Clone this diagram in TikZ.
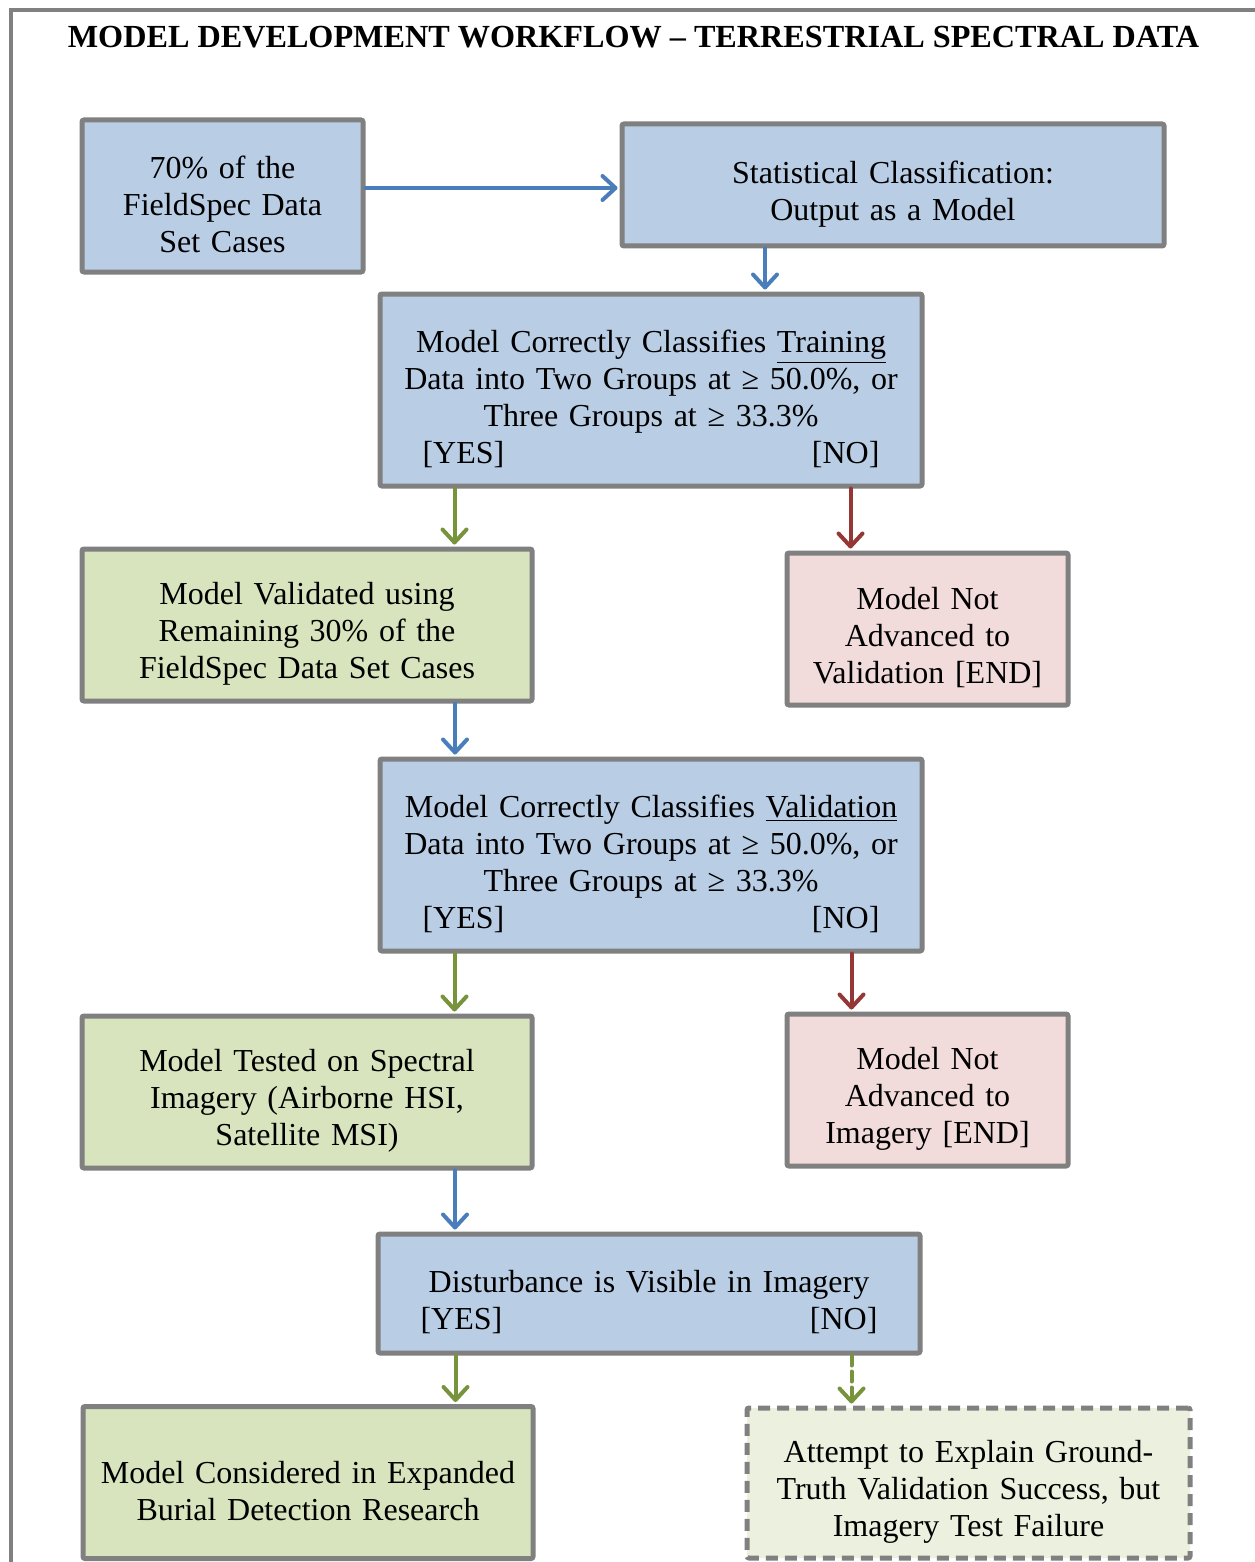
\documentclass[tikz,border=0pt]{standalone}
\usepackage{fontspec}
\setmainfont{Liberation Serif}
\usepackage{tikz}
\usetikzlibrary{arrows.meta, positioning}
\definecolor{edgegray}{RGB}{128,128,128}
\definecolor{bluefill}{RGB}{185,205,229}
\definecolor{greenfill}{RGB}{215,228,189}
\definecolor{pinkfill}{RGB}{242,220,219}
\definecolor{palefill}{RGB}{235,241,222}
\definecolor{bluearrow}{RGB}{74,126,187}
\definecolor{greenarrow}{RGB}{119,147,60}
\definecolor{redarrow}{RGB}{149,55,53}

\begin{document}
\begin{tikzpicture}[
    x=0.5pt, y=-0.5pt,
    box/.style={rectangle, draw=edgegray, line width=2.5pt, rounded corners=1pt, align=center, text width=215pt, inner sep=0pt, font=\fontsize{16}{18.5}\selectfont, execute at begin node={\rule{0pt}{20pt}}},
    bluebox/.style={box, fill=bluefill},
    greenbox/.style={box, fill=greenfill, minimum width=225pt, minimum height=76pt},
    stopbox/.style={box, fill=pinkfill, text width=135pt, minimum width=140.5pt, minimum height=76pt},
    checkbox/.style={bluebox, text width=250pt, minimum width=271pt, minimum height=96pt},
    arrow/.style={line width=2pt, line cap=round, shorten >=1pt, -{Straight Barb[length=6.5pt, width=12pt, round]}},
    bluearrowline/.style={arrow, draw=bluearrow},
    yesarrow/.style={arrow, draw=greenarrow},
    noarrow/.style={arrow, draw=redarrow}
]
\useasboundingbox (0,0) rectangle (1254,1562);

% outer frame and heading
\draw[edgegray, line width=2pt] (11,1600) -- (11,10) -- (1300,10);
\node[font=\bfseries\fontsize{16.1}{18}\selectfont] (title) at (633.5,37) {MODEL DEVELOPMENT WORKFLOW – TERRESTRIAL SPECTRAL DATA};

\node[bluebox, text width=135pt, minimum width=140.5pt, minimum height=76pt] (share) at (222.5,196) {70\% of the\\FieldSpec Data\\Set Cases};
\node[bluebox, minimum width=271pt, minimum height=61pt] (classify) at (893,185) {Statistical Classification:\\Output as a Model};

\node[checkbox] (train) at (651,390) {Model Correctly Classifies \underline{Training}\\Data into Two Groups at ≥ 50.0\%, or\\Three Groups at ≥ 33.3\%\\\makebox[228.5pt]{[YES]\hfill[NO]}};
\node[greenbox] (validate) at (307,625) {Model Validated using\\Remaining 30\% of the\\FieldSpec Data Set Cases};
\node[stopbox] (stoptrain) at (927.5,629) {Model Not\\Advanced to\\Validation [END]};

\node[checkbox] (valcheck) at (651,855) {Model Correctly Classifies \underline{Validation}\\Data into Two Groups at ≥ 50.0\%, or\\Three Groups at ≥ 33.3\%\\\makebox[228.5pt]{[YES]\hfill[NO]}};
\node[greenbox] (imagery) at (307,1092) {Model Tested on Spectral\\Imagery (Airborne HSI,\\Satellite MSI)};
\node[stopbox] (stopval) at (927.5,1090) {Model Not\\Advanced to\\Imagery [END]};

\node[bluebox, text width=250pt, minimum width=271pt, minimum height=59.5pt] (visible) at (649,1293.5) {Disturbance is Visible in Imagery\\\makebox[228.5pt]{[YES]\hfill[NO]}};
\node[greenbox] (research) at (308,1482.5) {Model Considered in Expanded\\Burial Detection Research};
\node[box, fill=palefill, dash pattern=on 6pt off 3.5pt, minimum width=221.5pt, minimum height=75pt] (explain) at (968.5,1483) {Attempt to Explain Ground-\\Truth Validation Success, but\\Imagery Test Failure};

\draw[bluearrowline] ([yshift=4pt]share.east) -- ([yshift=4pt]share.east -| classify.west);
\draw[bluearrowline] ([xshift=-64pt]classify.south) -- ([xshift=-64pt]classify.south |- train.north);
\draw[yesarrow] ([xshift=38.5pt]train.south west) -- ([xshift=38.5pt]train.south west |- validate.north);
\draw[noarrow] ([xshift=-37pt]train.south east) -- ([xshift=-37pt]train.south east |- stoptrain.north);
\draw[bluearrowline] ([xshift=74pt]validate.south) -- ([xshift=74pt]validate.south |- valcheck.north);
\draw[yesarrow] ([xshift=38.5pt]valcheck.south west) -- ([xshift=38.5pt]valcheck.south west |- imagery.north);
\draw[noarrow] ([xshift=-36.5pt]valcheck.south east) -- ([xshift=-36.5pt]valcheck.south east |- stopval.north);
\draw[bluearrowline] ([xshift=74pt]imagery.south) -- ([xshift=74pt]imagery.south |- visible.north);
\draw[yesarrow] ([xshift=40pt]visible.south west) -- ([xshift=40pt]visible.south west |- research.north);
\draw[yesarrow, dash pattern=on 5pt off 3pt] ([xshift=-35.5pt]visible.south east) -- ([xshift=-35.5pt]visible.south east |- explain.north);

\end{tikzpicture}
\end{document}
